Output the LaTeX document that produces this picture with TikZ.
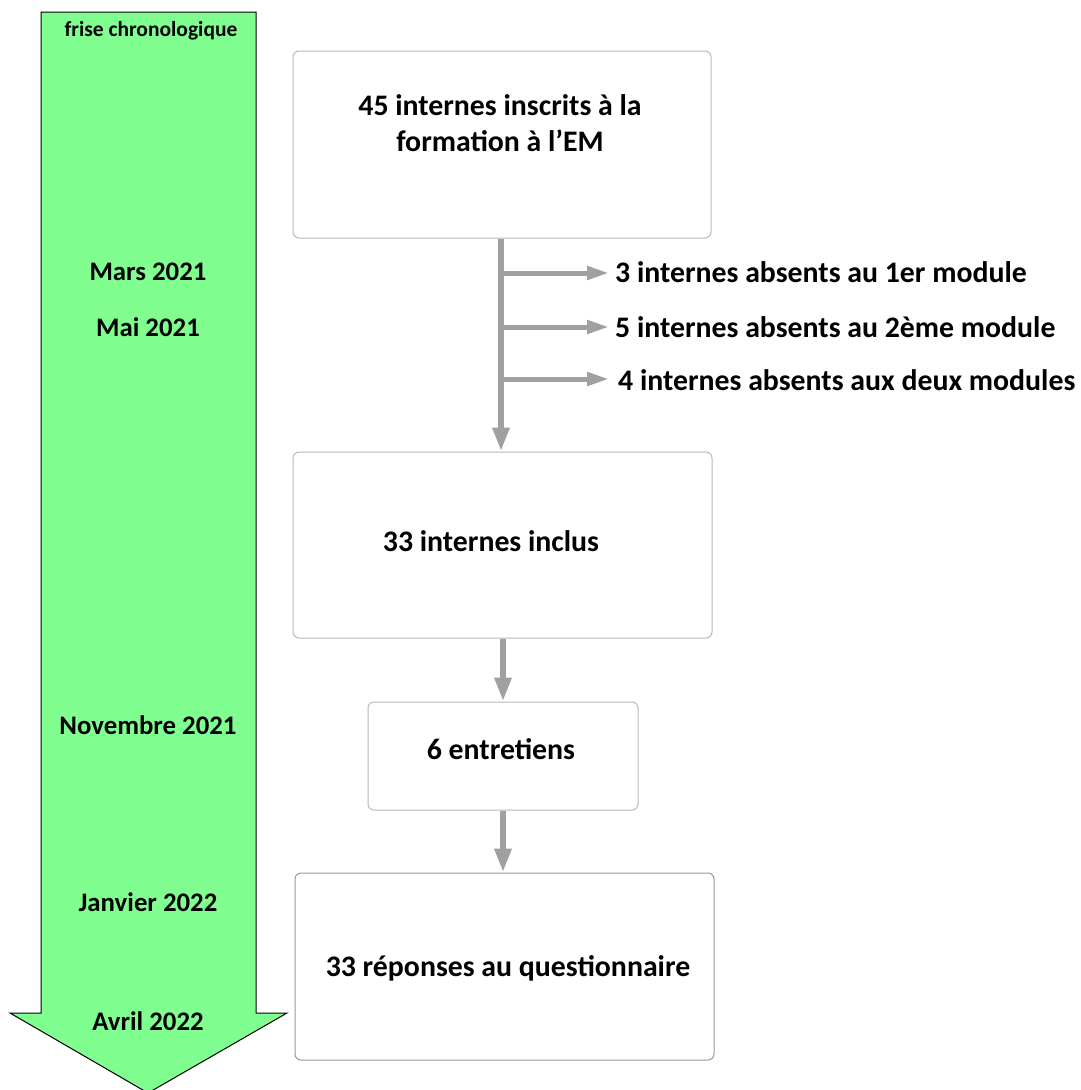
\documentclass[tikz,border=0pt]{standalone}
\usepackage{fontspec}
\setmainfont{Carlito}
\usetikzlibrary{arrows.meta}
\definecolor{frisegreen}{RGB}{128,255,144}
\definecolor{connector}{RGB}{160,160,160}
\definecolor{boxborder}{RGB}{185,185,185}
\tikzset{
  box/.style={draw=boxborder, line width=1pt, rounded corners=6pt, fill=white, inner sep=0pt},
  date/.style={font=\bfseries\fontsize{26.8}{30}\selectfont, inner sep=0pt},
  lbl/.style={font=\bfseries\fontsize{29.8}{36}\selectfont, inner sep=0pt, align=center},
  conn/.style={draw=connector, line width=6pt, -{Triangle[length=24pt,width=16pt]}},
  branch/.style={draw=connector, line width=5pt, -{Triangle[length=22pt,width=13pt]}},
}
\begin{document}
\begin{tikzpicture}[x=1pt,y=-1pt]
\useasboundingbox (0,0) rectangle (1080,1090);
% timeline arrow
\draw[fill=frisegreen, draw=black, line width=1pt]
  (41,12) -- (256,12) -- (256,1013) -- (287,1013) -- (148,1093) -- (10,1013) -- (41,1013) -- cycle;
\node[font=\bfseries\fontsize{21.5}{25}\selectfont, inner sep=0pt] (frise) at (151,31) {frise chronologique};
\node[date] (d1) at (148,272) {Mars 2021};
\node[date] (d2) at (148,327) {Mai 2021};
\node[date] (d3) at (148,725) {Novembre 2021};
\node[date] (d4) at (148,902) {Janvier 2022};
\node[date] (d5) at (148,1021) {Avril 2022};
% boxes
\node[box, minimum width=418pt, minimum height=187pt] (b1) at (502,144.5) {};
\node[lbl] (t1) at (500,123) {45 internes inscrits à la\\formation à l’EM};
\node[box, minimum width=419pt, minimum height=186pt] (b2) at (502.5,545) {};
\node[lbl] (t2) at (491,541) {33 internes inclus};
\node[box, minimum width=270pt, minimum height=108pt] (b3) at (503,756) {};
\node[lbl] (t3) at (501,749) {6 entretiens};
\node[box, draw=gray!80, minimum width=419pt, minimum height=187pt] (b4) at (504.5,966.5) {};
\node[lbl] (t4) at (508,968) {33 réponses au questionnaire};
% branch labels
\node[lbl, anchor=west] (a1) at (615,272) {3 internes absents au 1er module};
\node[lbl, anchor=west] (a2) at (615,327) {5 internes absents au 2ème module};
\node[lbl, anchor=west] (a3) at (618,380) {4 internes absents aux deux modules};
% connectors
\coordinate (c1) at (501,273);
\coordinate (c2) at (501,327);
\coordinate (c3) at (501,379);
\draw[conn] (b1.south -| c1) -- (b2.north -| c1);
\draw[branch, shorten >=6pt] (c1) -- (a1.west |- c1);
\draw[branch, shorten >=6pt] (c2) -- (a2.west |- c2);
\draw[branch, shorten >=9pt] (c3) -- (a3.west |- c3);
\draw[conn] (b2.south -| b3.north) -- (b3.north);
\draw[conn] (b3.south) -- (b3.south |- b4.north);
\end{tikzpicture}
\end{document}
